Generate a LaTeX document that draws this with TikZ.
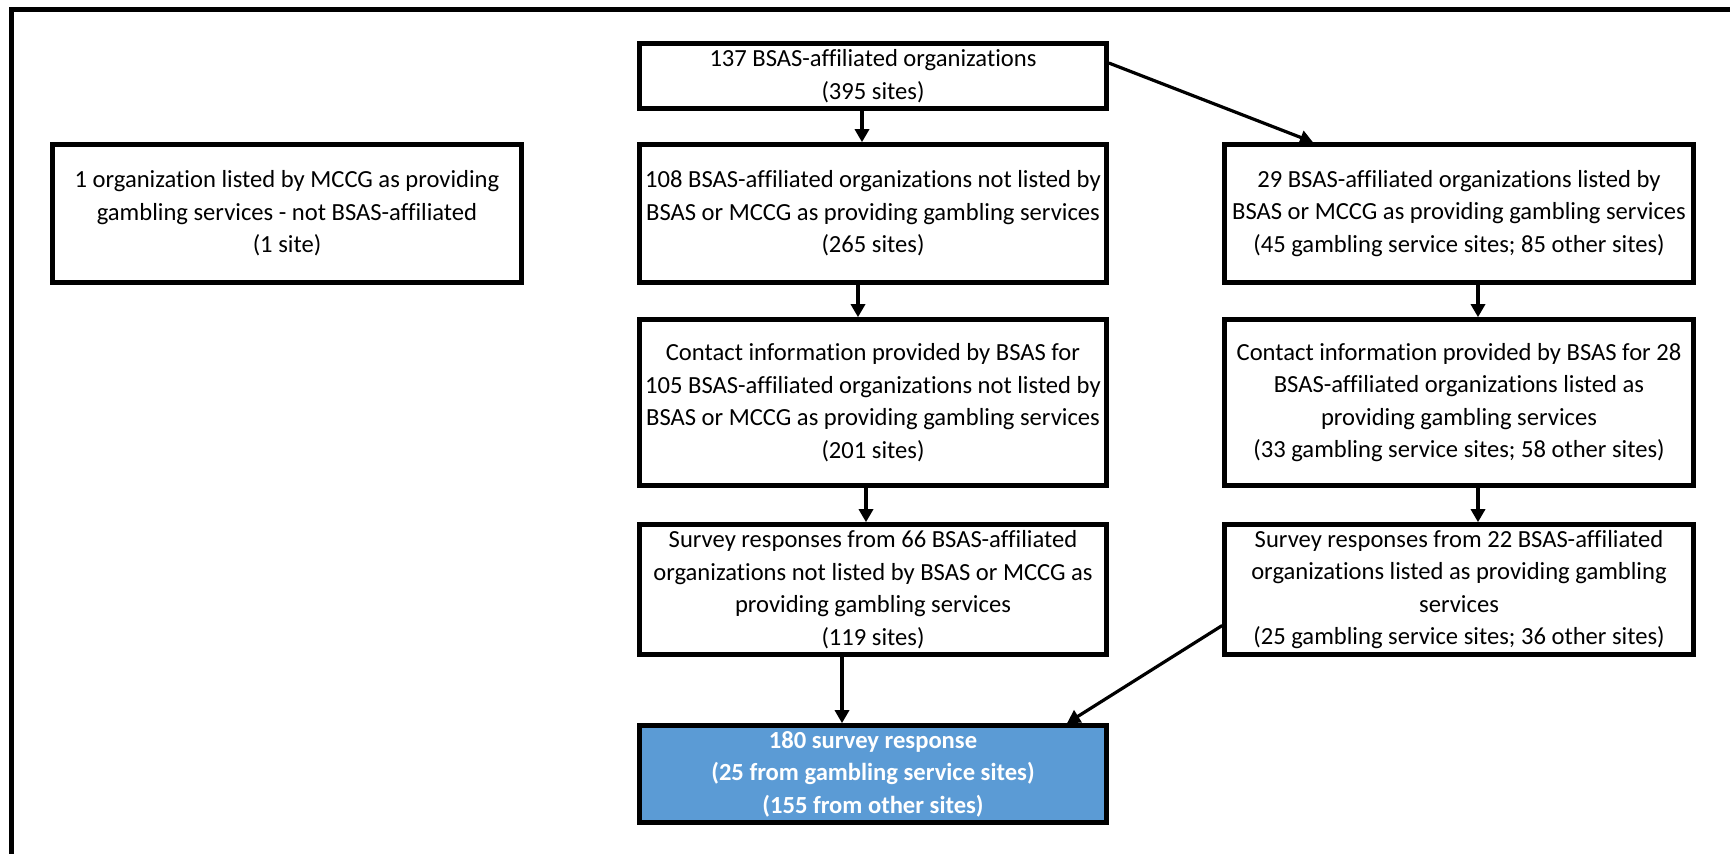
\documentclass[tikz,border=0pt]{standalone}
\usepackage{fontspec}
\setmainfont{Carlito}[Ligatures=NoCommon]
\usetikzlibrary{arrows.meta,calc}
\definecolor{boxblue}{HTML}{5B9BD5}
\tikzset{
  flowbox/.style={draw=black, line width=4.6pt, inner sep=0pt, align=center,
    font=\fontsize{24.6}{32.5}\selectfont, minimum width=467pt},
  bluebox/.style={flowbox, fill=boxblue, text=white, font=\fontsize{24.6}{32.5}\selectfont\bfseries},
  arr/.style={line width=3.2pt, -{Triangle[length=13pt,width=14pt]}},
  frameline/.style={line width=5pt}
}
\begin{document}
\begin{tikzpicture}[x=1pt,y=-1pt]
\useasboundingbox (0,0) rectangle (1730,854);
\coordinate (fr1) at (1730,9.5);
\coordinate (fr2) at (11.5,9.5);
\coordinate (fr3) at (11.5,854);
\draw[frameline] (fr1) -- (fr2) -- (fr3);

\node[flowbox, minimum height=65pt] (top) at (873,76) {137 BSAS-affiliated organizations\\(395 sites)};
\node[flowbox, minimum width=469pt, minimum height=138pt] (left) at (287,213.5) {1 organization listed by MCCG as providing\\gambling services - not BSAS-affiliated\\(1 site)};
\node[flowbox, minimum height=138pt] (b2) at (873,213.5) {108 BSAS-affiliated organizations not listed by\\BSAS or MCCG as providing gambling services\\(265 sites)};
\node[flowbox, minimum width=469pt, minimum height=138pt] (r2) at (1459,213.5) {29 BSAS-affiliated organizations listed by\\BSAS or MCCG as providing gambling services\\(45 gambling service sites; 85 other sites)};
\node[flowbox, minimum height=166pt] (b3) at (873,402.5) {Contact information provided by BSAS for\\105 BSAS-affiliated organizations not listed by\\BSAS or MCCG as providing gambling services\\(201 sites)};
\node[flowbox, minimum width=469pt, minimum height=166pt] (r3) at (1459,402.5) {Contact information provided by BSAS for 28\\BSAS-affiliated organizations listed as\\providing gambling services\\(33 gambling service sites; 58 other sites)};
\node[flowbox, minimum height=130pt] (b4) at (873,589.5) {Survey responses from 66 BSAS-affiliated\\organizations not listed by BSAS or MCCG as\\providing gambling services\\(119 sites)};
\node[flowbox, minimum width=469pt, minimum height=130pt] (r4) at (1459,589.5) {Survey responses from 22 BSAS-affiliated\\organizations listed as providing gambling\\services\\(25 gambling service sites; 36 other sites)};
\node[bluebox, minimum height=97pt] (res) at (873,774) {180 survey response\\(25 from gambling service sites)\\(155 from other sites)};

\draw[arr] ($(top.south)+(-11,0)$) -- ($(b2.north)+(-11,0)$);
\draw[arr] ($(b2.south)+(-15,0)$) -- ($(b3.north)+(-15,0)$);
\draw[arr] ($(b3.south)+(-7,0)$) -- ($(b4.north)+(-7,0)$);
\draw[arr] ($(b4.south)+(-31,0)$) -- ($(res.north)+(-31,0)$);
\draw[arr] ($(r2.south)+(19,0)$) -- ($(r3.north)+(19,0)$);
\draw[arr] ($(r3.south)+(19,0)$) -- ($(r4.north)+(19,0)$);
\draw[arr] ($(top.east)+(0,-13)$) -- ($(r2.north)+(-146,0)$);
\draw[arr] ($(r4.west)+(0,36)$) -- ($(res.north)+(194,0)$);
\end{tikzpicture}
\end{document}
